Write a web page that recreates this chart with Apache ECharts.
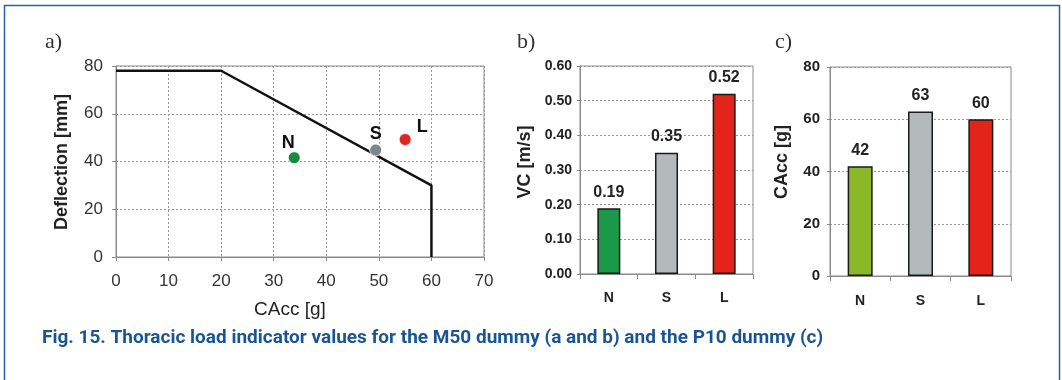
<!DOCTYPE html>
<html>
<head>
<meta charset="utf-8">
<script src="https://cdn.jsdelivr.net/npm/echarts@6/dist/echarts.min.js"></script>
<style>
html,body{margin:0;padding:0;background:#fff;}
#chart{width:1062px;height:380px;}
</style>
</head>
<body>
<div id="chart"></div>
<script>
// ---- data ----
const limitX = [0, 20, 60, 60];
const limitY = [78, 78, 30, 0];
const pointNames = ['N', 'S', 'L'];
const pointCAcc = [33.9, 49.4, 55.0];
const pointDefl = [41.6, 44.8, 49.2];
const categories = ['N', 'S', 'L'];
const vcValues = [0.19, 0.35, 0.52];
const caccP10 = [42, 63, 60];

// ---- styles ----
const pointColors = ['#178a3c', '#80878c', '#e02520'];
const barColorsB = ['#1a9a48', '#b4b9bc', '#e4231b'];
const barColorsC = ['#8ab828', '#b4b9bc', '#e4231b'];
const pointLabelOffsets = [[-6, -15], [0, -16], [17, -13]];
const FONT = 'Liberation Sans';

const chart = echarts.init(document.getElementById('chart'));

const dotted = { show: true, lineStyle: { color: '#9a9a9a', type: [2, 2], width: 1 } };
const axisLineStyle = { show: true, lineStyle: { color: '#8a8a8a', width: 1 } };

const option = {
  animation: false,
  textStyle: { fontFamily: FONT },
  grid: [
    { left: 116, top: 66, width: 368, height: 191, show: true, borderColor: '#8a8a8a', borderWidth: 1 },
    { left: 580, top: 66, width: 173, height: 208, show: true, borderColor: '#8a8a8a', borderWidth: 1 },
    { left: 830, top: 67, width: 181, height: 209, show: true, borderColor: '#8a8a8a', borderWidth: 1 }
  ],
  xAxis: [
    {
      gridIndex: 0, type: 'value', min: 0, max: 70, interval: 10,
      axisLine: axisLineStyle,
      axisTick: { show: true, length: 4, lineStyle: { color: '#8a8a8a' } },
      splitLine: dotted,
      axisLabel: { fontFamily: FONT, fontSize: 17, color: '#333', margin: 16 }
    },
    {
      gridIndex: 1, type: 'category', data: categories,
      axisLine: axisLineStyle,
      axisTick: { show: true, length: 5, alignWithLabel: false, lineStyle: { color: '#8a8a8a' } },
      splitLine: { show: false },
      axisLabel: { fontFamily: FONT, fontSize: 14, fontWeight: 'bold', color: '#222', margin: 17 }
    },
    {
      gridIndex: 2, type: 'category', data: categories,
      axisLine: axisLineStyle,
      axisTick: { show: true, length: 5, alignWithLabel: false, lineStyle: { color: '#8a8a8a' } },
      splitLine: { show: false },
      axisLabel: { fontFamily: FONT, fontSize: 14, fontWeight: 'bold', color: '#222', margin: 18 }
    }
  ],
  yAxis: [
    {
      gridIndex: 0, type: 'value', min: 0, max: 80, interval: 20,
      axisLine: axisLineStyle,
      axisTick: { show: true, length: 4, lineStyle: { color: '#8a8a8a' } },
      splitLine: dotted,
      axisLabel: { fontFamily: FONT, fontSize: 17, color: '#333', margin: 13 }
    },
    {
      gridIndex: 1, type: 'value', min: 0, max: 0.6, interval: 0.1,
      axisLine: axisLineStyle,
      axisTick: { show: true, length: 3, lineStyle: { color: '#8a8a8a' } },
      splitLine: dotted,
      axisLabel: { fontFamily: FONT, fontSize: 14, fontWeight: 'bold', color: '#222', margin: 8,
        formatter: v => v.toFixed(2) }
    },
    {
      gridIndex: 2, type: 'value', min: 0, max: 80, interval: 20,
      axisLine: axisLineStyle,
      axisTick: { show: true, length: 3, lineStyle: { color: '#8a8a8a' } },
      splitLine: dotted,
      axisLabel: { fontFamily: FONT, fontSize: 15, fontWeight: 'bold', color: '#222', margin: 10 }
    }
  ],
  series: [
    {
      type: 'line', xAxisIndex: 0, yAxisIndex: 0,
      data: limitX.map((x, i) => [x, limitY[i]]),
      symbol: 'none',
      lineStyle: { color: '#111', width: 2.5 },
      z: 3
    },
    {
      type: 'scatter', xAxisIndex: 0, yAxisIndex: 0,
      symbolSize: 12,
      data: pointNames.map((n, i) => ({
        name: n,
        value: [pointCAcc[i], pointDefl[i]],
        itemStyle: { color: pointColors[i], borderColor: '#ffffff', borderWidth: 0.8, opacity: 1 },
        label: { show: true, position: 'inside', offset: pointLabelOffsets[i], color: '#111',
          fontFamily: FONT, fontSize: 18, fontWeight: 'bold', formatter: n }
      })),
      z: 4
    },
    {
      type: 'bar', xAxisIndex: 1, yAxisIndex: 1, barWidth: 23,
      data: vcValues.map((v, i) => ({ value: v, itemStyle: { color: barColorsB[i] } })),
      itemStyle: { borderColor: '#1a1a1a', borderWidth: 1.5 },
      label: { show: true, position: 'top', distance: 8, formatter: p => p.value.toFixed(2),
        fontFamily: FONT, fontSize: 16, fontWeight: 'bold', color: '#222' }
    },
    {
      type: 'bar', xAxisIndex: 2, yAxisIndex: 2, barWidth: 25,
      data: caccP10.map((v, i) => ({ value: v, itemStyle: { color: barColorsC[i] } })),
      itemStyle: { borderColor: '#1a1a1a', borderWidth: 1.5 },
      label: { show: true, position: 'top', distance: 8,
        fontFamily: FONT, fontSize: 16, fontWeight: 'bold', color: '#222' }
    }
  ],
  graphic: [
    { type: 'rect', shape: { x: 4.5, y: 5.5, width: 1055, height: 420 },
      style: { fill: 'none', stroke: '#2563a8', lineWidth: 1.5 }, silent: true },
    { type: 'text', x: 45, y: 42, style: { text: 'a)', font: '22px "Liberation Serif", serif', fill: '#333', verticalAlign: 'middle' } },
    { type: 'text', x: 517, y: 42, style: { text: 'b)', font: '22px "Liberation Serif", serif', fill: '#333', verticalAlign: 'middle' } },
    { type: 'text', x: 775, y: 42, style: { text: 'c)', font: '22px "Liberation Serif", serif', fill: '#333', verticalAlign: 'middle' } },
    { type: 'text', x: 62, y: 162, rotation: Math.PI / 2,
      style: { text: 'Deflection [mm]', font: 'bold 18px "Liberation Sans", Arial, sans-serif', fill: '#222', align: 'center', verticalAlign: 'middle' } },
    { type: 'text', x: 290, y: 310,
      style: { text: 'CAcc [g]', font: '19px "Liberation Sans", Arial, sans-serif', fill: '#222', align: 'center', verticalAlign: 'middle' } },
    { type: 'text', x: 525, y: 162, rotation: Math.PI / 2,
      style: { text: 'VC [m/s]', font: 'bold 18px "Liberation Sans", Arial, sans-serif', fill: '#222', align: 'center', verticalAlign: 'middle' } },
    { type: 'text', x: 782, y: 162, rotation: Math.PI / 2,
      style: { text: 'CAcc [g]', font: 'bold 18px "Liberation Sans", Arial, sans-serif', fill: '#222', align: 'center', verticalAlign: 'middle' } },
    { type: 'text', x: 42, y: 338,
      style: { text: 'Fig. 15. Thoracic load indicator values for the M50 dummy (a and b) and the P10 dummy (c)',
        font: 'bold 19px Roboto, "Noto Sans", sans-serif', fill: '#1a5593', verticalAlign: 'middle' } }
  ]
};
chart.setOption(option);
</script>
</body>
</html>
